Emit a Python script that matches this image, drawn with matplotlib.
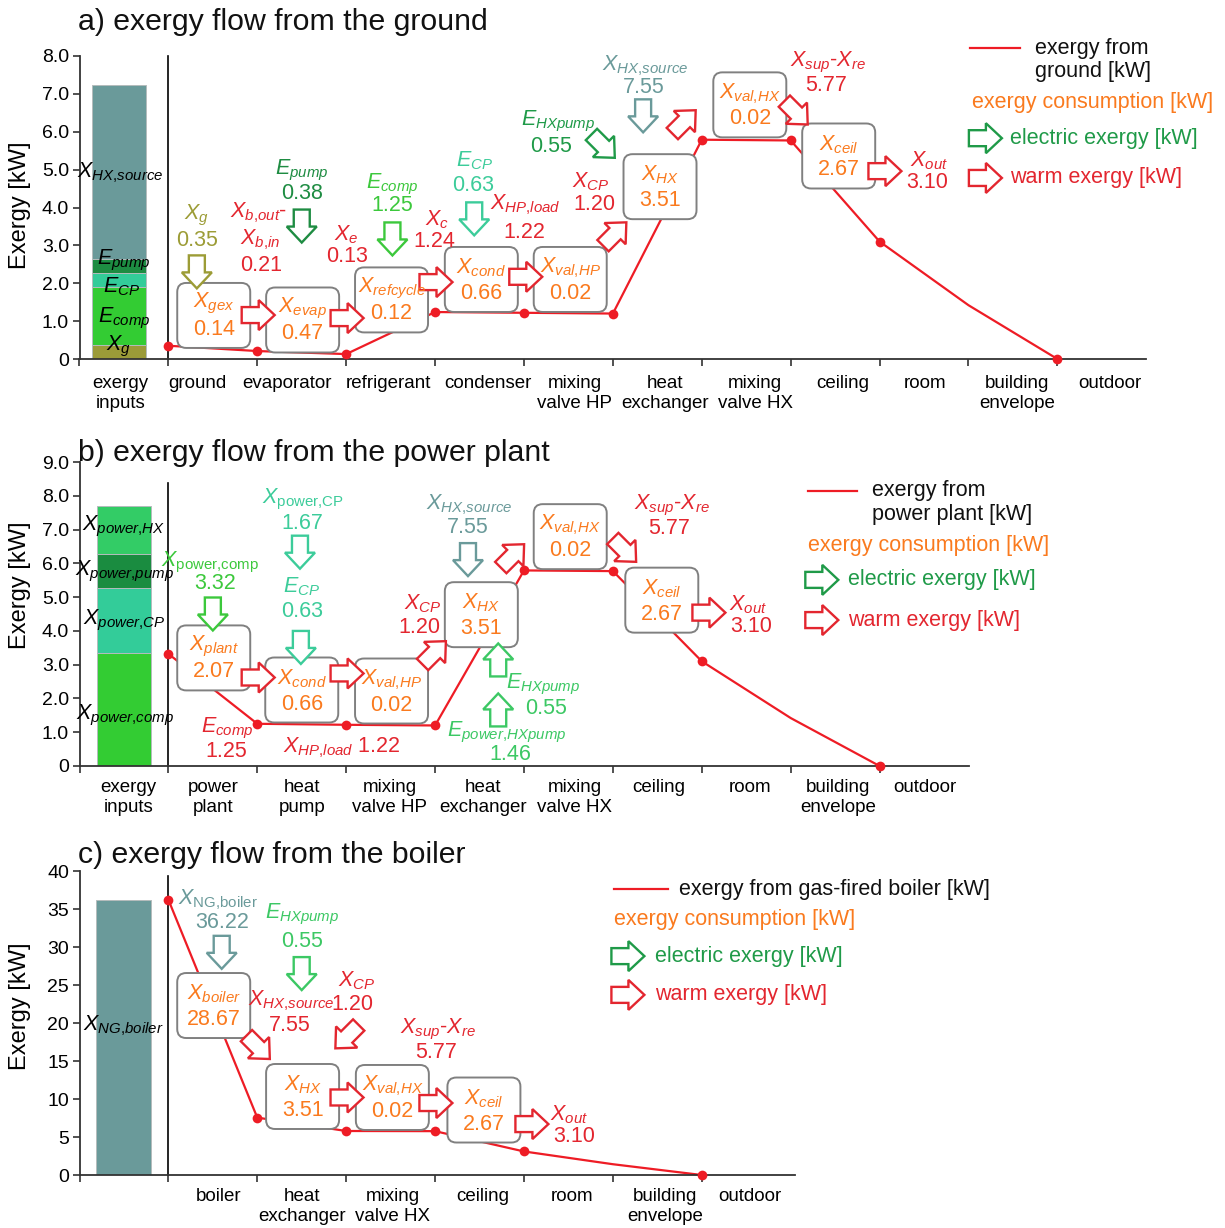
import matplotlib
matplotlib.use("Agg")
import matplotlib.pyplot as plt
import numpy as np
from matplotlib.patches import FancyBboxPatch, Polygon
from matplotlib.transforms import IdentityTransform

plt.rcParams.update({
    "font.family": ["Liberation Sans", "DejaVu Sans"],
    "mathtext.fontset": "custom",
    "mathtext.rm": "Liberation Sans",
    "mathtext.it": "Liberation Sans:italic",
    "mathtext.bf": "Liberation Sans:bold",
    "mathtext.sf": "Liberation Sans",
})

# ---------------------------------------------------------------- data
# a) exergy flow from the ground
ground_stages = ["exergy\ninputs", "ground", "evaporator", "refrigerant", "condenser",
                 "mixing\nvalve HP", "heat\nexchanger", "mixing\nvalve HX", "ceiling",
                 "room", "building\nenvelope", "outdoor"]
ground_flow = [0.35, 0.21, 0.13, 1.24, 1.22, 1.20, 5.79, 5.77, 3.10, 1.42, 0.0]
ground_flow_marked = [1, 1, 1, 1, 1, 1, 1, 1, 1, 0, 1]
ground_inputs = [r"$X_{g}$", r"$E_{comp}$", r"$E_{CP}$", r"$E_{pump}$", r"$X_{HX{,}source}$"]
ground_input_values = [0.36, 1.55, 0.35, 0.38, 4.60]
ground_losses = [r"$X_{gex}$", r"$X_{evap}$", r"$X_{refcycle}$", r"$X_{cond}$",
                 r"$X_{val{,}HP}$", r"$X_{HX}$", r"$X_{val{,}HX}$", r"$X_{ceil}$"]
ground_loss_values = [0.14, 0.47, 0.12, 0.66, 0.02, 3.51, 0.02, 2.67]
ground_streams = [r"$X_{g}$", r"$X_{b{,}out}$-", r"$E_{pump}$", r"$X_{e}$", r"$E_{comp}$",
                  r"$X_{c}$", r"$E_{CP}$", r"$X_{HP{,}load}$", r"$E_{HXpump}$", r"$X_{CP}$",
                  r"$X_{HX{,}source}$", r"$X_{sup}$-$X_{re}$", r"$X_{out}$"]
ground_stream_values = [0.35, 0.21, 0.38, 0.13, 1.25, 1.24, 0.63, 1.22, 0.55, 1.20,
                        7.55, 5.77, 3.10]

# b) exergy flow from the power plant
plant_stages = ["exergy\ninputs", "power\nplant", "heat\npump", "mixing\nvalve HP",
                "heat\nexchanger", "mixing\nvalve HX", "ceiling", "room",
                "building\nenvelope", "outdoor"]
plant_flow = [3.32, 1.25, 1.22, 1.20, 5.79, 5.77, 3.10, 1.42, 0.0]
plant_flow_marked = [1, 1, 1, 1, 1, 1, 1, 0, 1]
plant_inputs = [r"$X_{power{,}comp}$", r"$X_{power{,}CP}$", r"$X_{power{,}pump}$",
                r"$X_{power{,}HX}$"]
plant_input_values = [3.35, 1.92, 1.01, 1.42]
plant_losses = [r"$X_{plant}$", r"$X_{cond}$", r"$X_{val{,}HP}$", r"$X_{HX}$",
                r"$X_{val{,}HX}$", r"$X_{ceil}$"]
plant_loss_values = [2.07, 0.66, 0.02, 3.51, 0.02, 2.67]
plant_streams = [r"$X_{\mathrm{power{,}comp}}$", r"$X_{\mathrm{power{,}CP}}$", r"$E_{CP}$",
                 r"$E_{comp}$", r"$X_{HP{,}load}$", r"$X_{CP}$", r"$X_{HX{,}source}$",
                 r"$E_{HXpump}$", r"$E_{power{,}HXpump}$", r"$X_{sup}$-$X_{re}$",
                 r"$X_{out}$"]
plant_stream_values = [3.32, 1.67, 0.63, 1.25, 1.22, 1.20, 7.55, 0.55, 1.46, 5.77, 3.10]

# c) exergy flow from the boiler
boiler_stages = ["", "boiler", "heat\nexchanger", "mixing\nvalve HX", "ceiling", "room",
                 "building\nenvelope", "outdoor"]
boiler_flow = [36.22, 7.55, 5.79, 5.77, 3.10, 1.42, 0.0]
boiler_flow_marked = [1, 1, 1, 1, 1, 0, 1]
boiler_inputs = [r"$X_{NG{,}boiler}$"]
boiler_input_values = [36.22]
boiler_losses = [r"$X_{boiler}$", r"$X_{HX}$", r"$X_{val{,}HX}$", r"$X_{ceil}$"]
boiler_loss_values = [28.67, 3.51, 0.02, 2.67]
boiler_streams = [r"$X_{\mathrm{NG{,}boiler}}$", r"$E_{HXpump}$", r"$X_{HX{,}source}$",
                  r"$X_{CP}$", r"$X_{sup}$-$X_{re}$", r"$X_{out}$"]
boiler_stream_values = [36.22, 0.55, 7.55, 1.20, 5.77, 3.10]

# ---------------------------------------------------------------- colours
LINE_RED = "#ee1c25"
WARM = "#e3262f"
CONSUME = "#fa7a1e"
ELEC = "#1f9a48"
OLIVE = "#9c9c36"
DK_GREEN = "#1e8c42"
GREEN = "#3cc83c"
LT_GREEN = "#3cc864"
TEAL = "#3ccc9a"
GREY_TEAL = "#6a9a9a"
BOX_EDGE = "#808080"
AXIS = "#333333"

FS_TXT = 15.5
FIG_W, FIG_H, DPI = 1225, 1228, 100
fig = plt.figure(figsize=(FIG_W / DPI, FIG_H / DPI), dpi=DPI)
fig.patch.set_facecolor("white")


def make_axes(left, top, right, bottom):
    return fig.add_axes([left / FIG_W, 1 - bottom / FIG_H,
                         (right - left) / FIG_W, (bottom - top) / FIG_H])


def style_axes(ax, stages, label_x, ymax, ystep, decimals, sep_top, ylabel_y, pad=9.5):
    n = len(stages)
    ax.set_xlim(-1, n - 1)
    ax.set_ylim(0, ymax)
    for s in ("top", "right"):
        ax.spines[s].set_visible(False)
    for s in ("left", "bottom"):
        ax.spines[s].set_color(AXIS)
        ax.spines[s].set_linewidth(1.3)
    ax.set_xticks(np.arange(-1, n - 1))
    ax.set_xticklabels([])
    ax.set_xticks(label_x, stages, minor=True)
    ax.tick_params(axis="x", which="major", length=5, width=1.2, color=AXIS)
    ax.tick_params(axis="x", which="minor", length=0, pad=pad, labelsize=13.5)
    yt = np.arange(0, ymax + 1e-9, ystep)
    ax.set_yticks(yt, ["0"] + [f"{v:.{decimals}f}" for v in yt[1:]])
    ax.tick_params(axis="y", length=5, width=1.2, pad=2.5, labelsize=14, color=AXIS)
    ax.plot([0, 0], [0, sep_top], color="black", lw=1.2, zorder=2, clip_on=False)
    ax.set_ylabel("Exergy [kW]", fontsize=17)
    width_px = ax.get_position().width * FIG_W
    ax.yaxis.set_label_coords((31 - 79.5) / width_px, ylabel_y)


def draw_flow(ax, flow, marked):
    x = np.arange(len(flow))
    y = np.asarray(flow)
    m = np.asarray(marked, bool)
    ax.plot(x, y, color=LINE_RED, lw=1.6, zorder=2.5, clip_on=False)
    ax.plot(x[m], y[m], "o", color=LINE_RED, ms=7, mec="none", zorder=2.6, clip_on=False)


def draw_inputs(ax, xc, width, values, colors, names, name_xy):
    bottoms = np.concatenate([[0], np.cumsum(values)[:-1]])
    ax.bar(xc, values, width, bottom=bottoms, color=colors, edgecolor="#b4bcbc",
           lw=0.7, zorder=2)
    for name, (tx, ty) in zip(names, name_xy):
        ax.text(tx, ty, name, fontsize=FS_TXT, color="black", ha="center", va="center",
                zorder=5)


def loss_box(ax, x, y, name, value):
    cx, cy = ax.transData.transform((x, y))
    w, h = 73, 65
    box = FancyBboxPatch((cx - w / 2, cy - h / 2), w, h,
                         boxstyle="round,pad=0,rounding_size=9",
                         transform=IdentityTransform(), facecolor="white",
                         edgecolor=BOX_EDGE, lw=1.4, zorder=3, clip_on=False)
    ax.add_artist(box)
    ax.annotate(name, (x, y), xytext=(0, 11.5), textcoords="offset pixels",
                ha="center", va="center", fontsize=FS_TXT, color=CONSUME, zorder=5)
    ax.annotate(f"{value:.2f}", (x, y), xytext=(0, -14), textcoords="offset pixels",
                ha="center", va="center", fontsize=FS_TXT, color=CONSUME, zorder=5)


def block_arrow(ax, x, y, angle, color):
    cx, cy = ax.transData.transform((x, y))
    L, hl, hw, sw = 33, 16, 30, 16
    pts = np.array([[-L / 2, -sw / 2], [L / 2 - hl, -sw / 2], [L / 2 - hl, -hw / 2],
                    [L / 2, 0], [L / 2 - hl, hw / 2], [L / 2 - hl, sw / 2],
                    [-L / 2, sw / 2]])
    t = np.deg2rad(angle)
    rot = np.array([[np.cos(t), -np.sin(t)], [np.sin(t), np.cos(t)]])
    pts = pts @ rot.T + np.array([cx, cy])
    poly = Polygon(pts, closed=True, transform=IdentityTransform(), facecolor="white",
                   edgecolor=color, lw=1.7, joinstyle="miter", zorder=4, clip_on=False)
    ax.add_artist(poly)


def stream_label(ax, name, value, xy_name, xy_val, color):
    ax.text(*xy_name, name, fontsize=FS_TXT, color=color, ha="center", va="center", zorder=5)
    if xy_val is not None:
        ax.text(*xy_val, f"{value:.2f}", fontsize=FS_TXT, color=color, ha="center",
                va="center", zorder=5)


def legend_block(ax, line_x, line_y, source_lines, text_x, cons_xy, arrow_x, text2_x,
                 elec_y, warm_y):
    ax.plot(line_x, [line_y, line_y], color=LINE_RED, lw=1.6, clip_on=False)
    for s, ty in source_lines:
        ax.text(text_x, ty, s, fontsize=FS_TXT, color="#111111", ha="left", va="center")
    ax.text(*cons_xy, "exergy consumption [kW]", fontsize=FS_TXT, color=CONSUME,
            ha="left", va="center")
    block_arrow(ax, arrow_x, elec_y, 0, ELEC)
    ax.text(text2_x, elec_y, "electric exergy [kW]", fontsize=FS_TXT, color=ELEC,
            ha="left", va="center")
    block_arrow(ax, arrow_x, warm_y, 0, WARM)
    ax.text(text2_x, warm_y, "warm exergy [kW]", fontsize=FS_TXT, color=WARM,
            ha="left", va="center")


# ================================================================ a) ground
ax = make_axes(79.5, 56, 1146.3, 359)
style_axes(ax, ground_stages,
           [-0.54, 0.33, 1.33, 2.47, 3.59, 4.57, 5.59, 6.60, 7.58, 8.51, 9.55, 10.59],
           8.0, 1.0, 1, 8.0, 0.508, pad=11.5)
draw_flow(ax, ground_flow, ground_flow_marked)
draw_inputs(ax, -0.557, 0.61, ground_input_values,
            ["#9b9b38", "#33cc33", "#33cc99", "#1d8c42", "#6a9a9a"],
            ground_inputs, [(-0.56, 0.32), (-0.50, 1.08), (-0.53, 1.90), (-0.50, 2.59),
                            (-0.54, 4.91)])
for name, val, xy in zip(ground_losses, ground_loss_values,
                         [(0.51, 1.15), (1.51, 1.03), (2.51, 1.56), (3.52, 2.10),
                          (4.52, 2.10), (5.53, 4.55), (6.54, 6.71), (7.54, 5.36)]):
    loss_box(ax, *xy, name, val)

ga_layout = [
    ((0.32, 3.80), (0.32, 3.14), OLIVE),
    ((1.01, 3.85), (1.04, 2.46), WARM),
    ((1.50, 4.97), (1.50, 4.36), DK_GREEN),
    ((2.00, 3.27), (2.01, 2.70), WARM),
    ((2.52, 4.62), (2.52, 4.04), GREEN),
    ((3.02, 3.67), (2.99, 3.09), WARM),
    ((3.44, 5.23), (3.43, 4.59), TEAL),
    ((4.01, 4.07), (4.00, 3.35), WARM),
    ((4.39, 6.26), (4.30, 5.62), ELEC),
    ((4.75, 4.67), (4.79, 4.07), WARM),
    ((5.36, 7.74), (5.35, 7.18), GREY_TEAL),
    ((7.42, 7.84), (7.40, 7.21), WARM),
    ((8.56, 5.23), (8.54, 4.65), WARM),
]
for name, val, (xy_n, xy_v, col) in zip(ground_streams, ground_stream_values, ga_layout):
    stream_label(ax, name, val, xy_n, xy_v, col)
ax.text(1.03, 3.14, r"$X_{b{,}in}$", fontsize=FS_TXT, color=WARM, ha="center",
        va="center", zorder=5)

for x, y, ang, col in [
        (0.32, 2.30, -90, OLIVE), (1.01, 1.16, 0, WARM), (2.01, 1.08, 0, WARM),
        (3.01, 2.03, 0, WARM), (1.50, 3.51, -90, DK_GREEN), (2.52, 3.17, -90, GREEN),
        (3.44, 3.70, -90, TEAL), (4.02, 2.17, 0, WARM), (5.02, 3.30, 45, WARM),
        (4.89, 5.62, -45, ELEC), (5.34, 6.42, -90, GREY_TEAL), (5.80, 6.26, 45, WARM),
        (7.06, 6.50, -45, WARM), (8.06, 4.96, 0, WARM)]:
    block_arrow(ax, x, y, ang, col)

legend_block(ax, [9.02, 9.58], 8.21, [("exergy from", 8.21), ("ground [kW]", 7.58)], 9.75,
             (9.04, 6.76), 9.19, 9.47, 5.83, 4.78)

# ================================================================ b) power plant
bx = make_axes(79.5, 462, 968.5, 766)
style_axes(bx, plant_stages,
           [-0.45, 0.50, 1.50, 2.49, 3.54, 4.57, 5.52, 6.54, 7.53, 8.51],
           9.0, 1.0, 1, 8.38, 0.595)
draw_flow(bx, plant_flow, plant_flow_marked)
draw_inputs(bx, -0.50, 0.61, plant_input_values,
            ["#33cc33", "#33cc99", "#1a8c40", "#33cc66"],
            plant_inputs, [(-0.49, 1.51), (-0.50, 4.32), (-0.49, 5.77), (-0.50, 7.08)])
for name, val, xy in zip(plant_losses, plant_loss_values,
                         [(0.51, 3.20), (1.50, 2.25), (2.51, 2.22), (3.52, 4.48),
                          (4.52, 6.79), (5.55, 4.91)]):
    loss_box(bx, *xy, name, val)

gb_layout = [
    ((0.47, 6.04), (0.52, 5.39), GREEN),
    ((1.51, 7.90), (1.51, 7.19), TEAL),
    ((1.50, 5.30), (1.50, 4.56), TEAL),
    ((0.66, 1.10), (0.65, 0.44), WARM),
    (None, None, WARM),
    ((2.86, 4.80), (2.82, 4.11), WARM),
    ((3.38, 7.73), (3.37, 7.05), GREY_TEAL),
    ((4.22, 2.40), (4.25, 1.70), LT_GREEN),
    ((3.81, 1.00), (3.85, 0.33), LT_GREEN),
    ((5.66, 7.70), (5.63, 7.02), WARM),
    ((6.52, 4.77), (6.56, 4.14), WARM),
]
for name, val, (xy_n, xy_v, col) in zip(plant_streams, plant_stream_values, gb_layout):
    if xy_n is None:
        bx.text(1.95, 0.53, f"{name} {val:.2f}", fontsize=FS_TXT, color=col,
                ha="center", va="center", zorder=5)
    else:
        stream_label(bx, name, val, xy_n, xy_v, col)

for x, y, ang, col in [
        (0.50, 4.50, -90, GREEN), (1.01, 2.62, 0, WARM), (2.01, 2.74, 0, WARM),
        (2.99, 3.35, 45, WARM), (1.48, 6.33, -90, TEAL), (1.49, 3.51, -90, TEAL),
        (3.37, 6.11, -90, GREY_TEAL), (3.87, 6.22, 45, WARM), (3.71, 3.14, 90, LT_GREEN),
        (3.71, 1.66, 90, LT_GREEN), (5.13, 6.39, -45, WARM), (6.08, 4.54, 0, WARM)]:
    block_arrow(bx, x, y, ang, col)

legend_block(bx, [7.19, 7.75], 8.14, [("exergy from", 8.17), ("power plant [kW]", 7.46)],
             7.91, (7.19, 6.54), 7.35, 7.64, 5.51, 4.32)

# ================================================================ c) boiler
cx_ = make_axes(79.5, 871, 795.0, 1175)
style_axes(cx_, boiler_stages,
           [-0.5, 0.56, 1.50, 2.52, 3.54, 4.54, 5.59, 6.54],
           40, 5, 0, 39.3, 0.554)
cx_.set_xlim(-1, 7.05)
draw_flow(cx_, boiler_flow, boiler_flow_marked)
draw_inputs(cx_, -0.50, 0.62, boiler_input_values, ["#6a9a9a"],
            boiler_inputs, [(-0.51, 19.7)])
for name, val, xy in zip(boiler_losses, boiler_loss_values,
                         [(0.51, 22.3), (1.51, 10.33), (2.52, 10.2), (3.55, 8.55)]):
    loss_box(cx_, *xy, name, val)

gc_layout = [
    ((0.56, 36.2), (0.60, 33.2), GREY_TEAL),
    ((1.50, 34.3), (1.50, 30.7), LT_GREEN),
    ((1.38, 22.9), (1.36, 19.7), WARM),
    ((2.12, 25.5), (2.07, 22.4), WARM),
    ((3.03, 19.1), (3.01, 16.1), WARM),
    ((4.51, 7.9), (4.56, 5.1), WARM),
]
for name, val, (xy_n, xy_v, col) in zip(boiler_streams, boiler_stream_values, gc_layout):
    stream_label(cx_, name, val, xy_n, xy_v, col)

for x, y, ang, col in [
        (0.60, 29.3, -90, GREY_TEAL), (1.50, 26.5, -90, LT_GREEN), (1.01, 16.8, -45, WARM),
        (2.01, 18.2, -135, WARM), (2.01, 10.2, 0, WARM), (3.01, 9.47, 0, WARM),
        (4.09, 6.7, 0, WARM)]:
    block_arrow(cx_, x, y, ang, col)

legend_block(cx_, [5.01, 5.62], 37.6, [("exergy from gas-fired boiler [kW]", 37.6)], 5.75,
             (5.01, 33.6), 5.17, 5.47, 28.8, 23.7)

# ---------------------------------------------------------------- titles
for ty, title in [(22, "a) exergy flow from the ground"),
                  (453, "b) exergy flow from the power plant"),
                  (855, "c) exergy flow from the boiler")]:
    fig.text(78 / FIG_W, 1 - ty / FIG_H, title, fontsize=21.8, ha="left", va="center",
             color="#111111")

fig.savefig("out.png", dpi=DPI, facecolor="white")
